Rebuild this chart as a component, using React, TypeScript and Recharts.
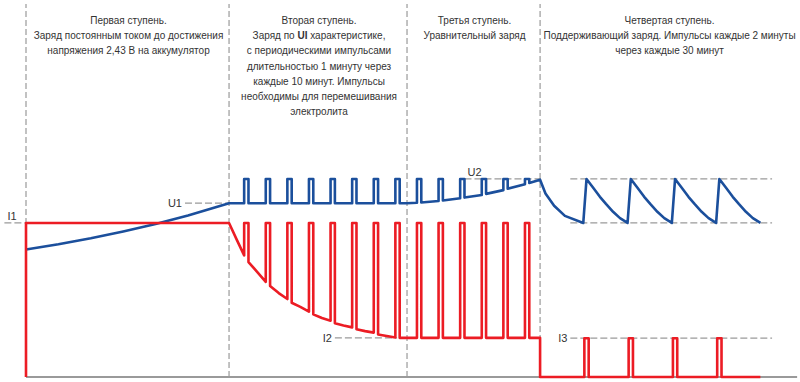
import React from "react";
import {
  LineChart,
  Line,
  XAxis,
  YAxis,
  ReferenceLine,
  ReferenceArea,
} from "recharts";

// time in minutes, levels in % of full scale
const STAGE_STARTS = [0, 94, 176.4, 238];
const T_MIN = -10;
const T_MAX = 357;

const I1 = 41.3;
const I2 = 10.5;
const I3 = 10.4;
const U1 = 46.6;
const U2 = 53.1;

const stageTitles = [
  [
    "Первая ступень.",
    "Заряд постоянным током до достижения",
    "напряжения 2,43 В на аккумулятор",
  ],
  [
    "Вторая ступень.",
    "Заряд по UI характеристике,",
    "с периодическими импульсами",
    "длительностью 1 минуту через",
    "каждые 10 минут. Импульсы",
    "необходимы для перемешивания",
    "электролита",
  ],
  ["Третья ступень.", "Уравнительный заряд"],
  [
    "Четвертая ступень.",
    "Поддерживающий заряд. Импульсы каждые 2 минуты",
    "через каждые 30 минут",
  ],
];

// stage 1: voltage rise under constant current
const riseTimes = [0, 15, 30, 45, 60, 75, 94];
const riseVoltage = [34.2, 35.6, 37.2, 39.0, 41.0, 43.3, 46.6];

// stages 2-3: pulses every 10 min
const PULSE_HALF = 1;
const pulseTimes = [102, 112, 122, 132, 142, 152, 162, 172, 182, 192, 202, 212, 222, 232];
const currentBefore = [32.6, 25.5, 20.9, 17.5, 15.1, 13.3, 11.9, 10.6, 10.5, 10.5, 10.5, 10.5, 10.5, 10.5];
const currentAfter = [30.8, 24.4, 19.9, 16.8, 14.4, 12.8, 11.4, 10.5, 10.5, 10.5, 10.5, 10.5, 10.5, 10.5];
const currentMidTimes = [97.5, 107, 117, 127, 137, 147, 157, 167];
const currentMid = [36.9, 28.2, 22.5, 18.8, 15.8, 13.8, 12.3, 11.0];
const voltageBefore = [46.6, 46.6, 46.6, 46.6, 46.6, 46.6, 46.6, 46.6, 46.7, 47.2, 47.9, 48.8, 50.1, 51.7];
const voltageAfter = [46.6, 46.6, 46.6, 46.6, 46.6, 46.6, 46.6, 46.6, 46.8, 47.3, 48.1, 49.1, 50.5, 52.0];
const equalizeEnd = 52.9;

// stage 4: float charge
const floatPulseTimes = [259.5, 280, 300.5, 321];
const floatEnd = 340;
const dropTimes = [240.5, 244.5, 249.5, 258];
const dropVoltage = [49.2, 45.9, 43.2, 41.3];
const sawOffsets = [0, 3, 6.2, 9, 12.3, 15.5, 19];
const sawVoltage = [53.1, 50.8, 48.3, 46.4, 44.3, 42.6, 41.3];

const guides = [
  { label: "I1", from: -10, to: 0, level: I1, pos: "insideBottomLeft" },
  { label: "U1", from: 73.6, to: 94, level: U1, pos: "left" },
  { label: "U2", from: 203, to: 238, level: U2, pos: "insideBottomLeft" },
  { label: "I2", from: 143, to: 171.8, level: I2, pos: "left" },
  { label: "", from: 252, to: 345.4, level: U2, pos: "left" },
  { label: "", from: 252, to: 345.4, level: I1, pos: "left" },
  { label: "I3", from: 252, to: 345.4, level: I3, pos: "left" },
];

const RED = "#ec1c24";
const BLUE = "#1b4f9c";
const GRID = "#9a9a9a";
const FONT = "'Liberation Sans', Arial, sans-serif";

type Pt = { t: number; v: number };

const current: Pt[] = [];
const voltage: Pt[] = [];
const add = (arr: Pt[], t: number, v: number) => arr.push({ t, v });

add(current, 0, 0);
add(current, 0, I1);
add(current, STAGE_STARTS[1], I1);
add(current, currentMidTimes[0], currentMid[0]);
pulseTimes.forEach((c, k) => {
  add(current, c - PULSE_HALF, currentBefore[k]);
  add(current, c - PULSE_HALF, I1);
  add(current, c + PULSE_HALF, I1);
  add(current, c + PULSE_HALF, currentAfter[k]);
  if (k + 1 < currentMid.length) add(current, currentMidTimes[k + 1], currentMid[k + 1]);
});
add(current, STAGE_STARTS[3], I2);
add(current, STAGE_STARTS[3], 0);
floatPulseTimes.forEach((c) => {
  add(current, c - PULSE_HALF, 0);
  add(current, c - PULSE_HALF, I3);
  add(current, c + PULSE_HALF, I3);
  add(current, c + PULSE_HALF, 0);
});
add(current, floatEnd, 0);

riseTimes.forEach((t, i) => add(voltage, t, riseVoltage[i]));
pulseTimes.forEach((c, k) => {
  add(voltage, c - PULSE_HALF, voltageBefore[k]);
  add(voltage, c - PULSE_HALF, U2);
  add(voltage, c + PULSE_HALF, U2);
  add(voltage, c + PULSE_HALF, voltageAfter[k]);
  if (k === 7) add(voltage, STAGE_STARTS[2], U1);
});
add(voltage, STAGE_STARTS[3], equalizeEnd);
dropTimes.forEach((t, i) => add(voltage, t, dropVoltage[i]));
floatPulseTimes.forEach((c) => {
  sawOffsets.forEach((o, i) => add(voltage, c + o, sawVoltage[i]));
});

function renderLine(line: string) {
  const parts = line.split("UI");
  if (parts.length === 1) return line;
  return (
    <>
      {parts[0]}
      <tspan fontWeight="bold">UI</tspan>
      {parts[1]}
    </>
  );
}

function StageTitle(props: any) {
  const { viewBox, lines } = props;
  if (!viewBox) return null;
  const cx = viewBox.x + viewBox.width / 2 + 1;
  return (
    <text
      x={cx}
      y={viewBox.y + 20}
      textAnchor="middle"
      fill="#333"
      fontSize={10}
      fontFamily={FONT}
    >
      {lines.map((line: string, i: number) => (
        <tspan key={i} x={cx} dy={i === 0 ? 0 : 15.2}>
          {renderLine(line)}
        </tspan>
      ))}
    </text>
  );
}

export default function App() {
  return (
    <div
      style={{
        position: "absolute",
        left: 0,
        top: 0,
        width: 800,
        height: 382,
        background: "#fff",
      }}
    >
      <LineChart
        width={800}
        height={382}
        margin={{ top: 4, right: 2.88, bottom: 5, left: 4.4 }}
      >
        <XAxis type="number" dataKey="t" domain={[T_MIN, T_MAX]} hide />
        <YAxis type="number" domain={[0, 100]} hide />
        {stageTitles.map((lines, i) => (
          <ReferenceArea
            key={`title-${i}`}
            x1={STAGE_STARTS[i]}
            x2={i + 1 < STAGE_STARTS.length ? STAGE_STARTS[i + 1] : T_MAX}
            y1={70}
            y2={100}
            fill="none"
            fillOpacity={0}
            stroke="none"
            label={(p: any) => <StageTitle {...p} lines={lines} />}
          />
        ))}
        {STAGE_STARTS.map((t) => (
          <ReferenceLine
            key={`stage-${t}`}
            x={t}
            stroke={GRID}
            strokeWidth={1.2}
            strokeDasharray="6 3"
          />
        ))}
        {guides.map((g, i) => (
          <ReferenceLine
            key={`guide-${i}`}
            segment={[
              { x: g.from, y: g.level },
              { x: g.to, y: g.level },
            ]}
            stroke={GRID}
            strokeWidth={1.2}
            strokeDasharray="7 3"
            label={
              g.label
                ? {
                    value: g.label,
                    position: g.pos as any,
                    offset: 3,
                    fill: "#333",
                    fontSize: 11,
                    fontFamily: FONT,
                  }
                : undefined
            }
          />
        ))}
        <ReferenceLine
          segment={[
            { x: 0, y: 0 },
            { x: T_MAX, y: 0 },
          ]}
          stroke={GRID}
          strokeWidth={2}
        />
        <Line
          data={voltage}
          dataKey="v"
          type="linear"
          stroke={BLUE}
          strokeWidth={2.6}
          strokeLinejoin="round"
          dot={false}
          activeDot={false}
          isAnimationActive={false}
        />
        <Line
          data={current}
          dataKey="v"
          type="linear"
          stroke={RED}
          strokeWidth={2.6}
          strokeLinejoin="round"
          dot={false}
          activeDot={false}
          isAnimationActive={false}
        />
      </LineChart>
    </div>
  );
}
